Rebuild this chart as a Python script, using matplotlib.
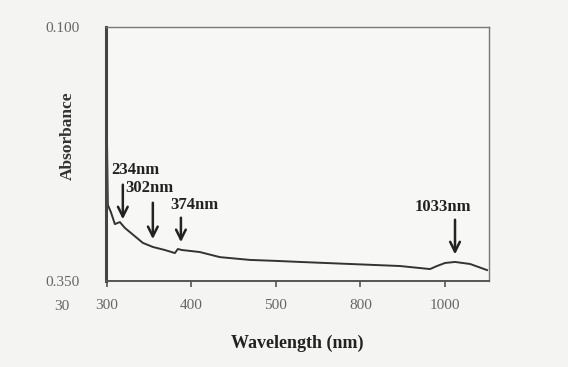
import matplotlib
matplotlib.use("Agg")
import matplotlib.pyplot as plt

# Spectrum trace (x in the chart's evenly spaced axis units, y in relative axis units)
wave = [300, 301.2, 304.7, 309.5, 315.4, 321.3, 342.6, 354.4, 368.6, 380.5, 384,
        388.8, 410, 433.7, 469.2, 501.2, 528.4, 587.6, 646.7, 682.2, 690.5, 700,
        711.8, 729.6, 749.7]
absorb = [0.594, 0.299, 0.272, 0.224, 0.232, 0.209, 0.150, 0.134, 0.122, 0.110, 0.126,
          0.122, 0.114, 0.094, 0.083, 0.079, 0.075, 0.067, 0.059, 0.047, 0.059, 0.071,
          0.075, 0.067, 0.043]

x_ticks = [300, 400, 500, 600, 700]
x_ticklabels = ["300", "400", "500", "800", "1000"]
y_ticks = [0.0, 1.0]
y_ticklabels = ["0.350", "0.100"]

peak_labels = ["234nm", "302nm", "374nm", "1033nm"]
peak_x = [318.9, 354.4, 387.6, 711.8]
peak_tip = [0.232, 0.154, 0.142, 0.094]
peak_tail = [0.390, 0.319, 0.260, 0.252]
label_x = [304.7, 321.3, 374.6, 664.5]
label_y = [0.437, 0.366, 0.299, 0.291]

bg = "#f4f4f2"
fig = plt.figure(figsize=(5.68, 3.67), dpi=100, facecolor=bg)
ax = fig.add_axes([106 / 568, 1 - 281 / 367, 383 / 568, 254 / 367], facecolor="#f7f7f5")

ax.plot(wave, absorb, color="#333333", lw=1.4)

ax.set_xlim(299, 752)
ax.set_ylim(0, 1)
ax.set_xticks(x_ticks)
ax.set_xticklabels(x_ticklabels, fontsize=11, color="#666666", family="Liberation Serif")
ax.set_yticks(y_ticks)
ax.set_yticklabels(y_ticklabels, fontsize=11, color="#666666", family="Liberation Serif")
ax.tick_params(axis="x", direction="out", length=4, width=1.2, color="#555555", pad=9)
ax.tick_params(axis="y", length=0, pad=19)

for side in ["top", "right"]:
    ax.spines[side].set_color("#777777")
    ax.spines[side].set_linewidth(1.0)
ax.spines["left"].set_color("#444444")
ax.spines["left"].set_linewidth(2.2)
ax.spines["bottom"].set_color("#555555")
ax.spines["bottom"].set_linewidth(1.4)

for lab, px, tip, tail, lx, ly in zip(peak_labels, peak_x, peak_tip, peak_tail, label_x, label_y):
    ax.annotate("", xy=(px, tip), xytext=(px, tail),
                arrowprops=dict(arrowstyle="->,head_length=0.7,head_width=0.35",
                                color="#222222", lw=1.8))
    ax.text(lx, ly, lab, fontsize=12, fontweight="bold", family="Liberation Serif",
            color="#222222", ha="left", va="center")

ax.set_xlabel("Wavelength (nm)", fontsize=13, fontweight="bold",
              family="Liberation Serif", color="#222222", labelpad=16)
fig.text(68 / 568, 1 - 136 / 367, "Absorbance", rotation=90, fontsize=12.5,
         fontweight="bold", family="Liberation Serif", color="#333333",
         ha="center", va="center")
fig.text(62 / 568, 1 - 307 / 367, "30", fontsize=11, color="#666666",
         family="Liberation Serif", ha="center", va="center")

fig.savefig("out.png", dpi=100, facecolor=bg)
